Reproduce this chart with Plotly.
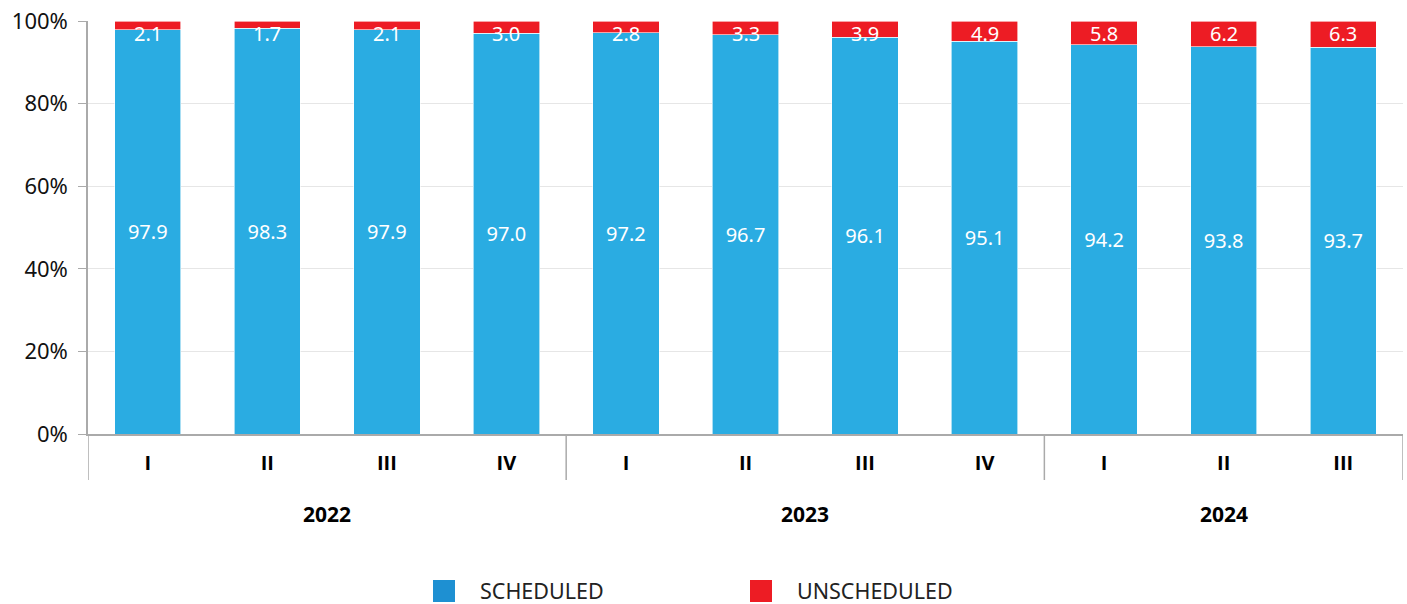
import plotly.graph_objects as go

years = ["2022"] * 4 + ["2023"] * 4 + ["2024"] * 3
quarters = ["I", "II", "III", "IV", "I", "II", "III", "IV", "I", "II", "III"]
scheduled = [97.9, 98.3, 97.9, 97.0, 97.2, 96.7, 96.1, 95.1, 94.2, 93.8, 93.7]
unscheduled = [2.1, 1.7, 2.1, 3.0, 2.8, 3.3, 3.9, 4.9, 5.8, 6.2, 6.3]
y_ticks = [0, 20, 40, 60, 80, 100]
year_labels = ["2022", "2023", "2024"]
series_names = ["SCHEDULED", "UNSCHEDULED"]

FONT = "Noto Sans"
TICKFONT = "Open Sans"
BLUE = "#2AACE2"
RED = "#ED1C24"
LEG_BLUE = "#1E90D2"
GRID = "#E6E6E6"
AXIS = "#AAAAAA"

PW, PH = 1315, 413   # plot area size in px
cats = [f"{y} {q}" for y, q in zip(years, quarters)]

fig = go.Figure()
fig.add_trace(go.Bar(
    x=cats, y=scheduled, name=series_names[0],
    marker=dict(color=BLUE, line=dict(color="white", width=0.6)),
    text=[f"{v:.1f}" for v in scheduled], textposition="inside",
    insidetextanchor="middle", textangle=0, constraintext="none",
    textfont=dict(color="white", size=20, family=FONT),
    width=0.555, showlegend=False,
))
fig.add_trace(go.Bar(
    x=cats, y=unscheduled, name=series_names[1],
    marker=dict(color=RED, line=dict(color="white", width=0.6)),
    width=0.555, showlegend=False,
))

# labels for the thin unscheduled segments, anchored at the top of each stack
for c, s, u in zip(cats, scheduled, unscheduled):
    fig.add_annotation(x=c, y=s + u, yref="y", text=f"{u:.1f}", showarrow=False,
                       yanchor="top", yshift=3,
                       font=dict(color="white", size=20, family=FONT))

# group dividers and year labels
n = len(cats)
bounds = [-0.5]
centers = []
for yl in year_labels:
    idx = [i for i, y in enumerate(years) if y == yl]
    bounds.append(idx[-1] + 0.5)
    centers.append((idx[0] + idx[-1]) / 2)
for b in bounds:
    fig.add_shape(type="line", xref="x", yref="paper", x0=b, x1=b, y0=0, y1=-46 / PH,
                  line=dict(color=AXIS, width=1.5))
for yl, cx in zip(year_labels, centers):
    fig.add_annotation(x=cx, xref="x", y=-80 / PH, yref="paper", text=f"<b>{yl}</b>",
                       showarrow=False, yanchor="middle",
                       font=dict(size=21, family=TICKFONT, color="#000000"))

# custom legend with large square swatches (positions relative to plot area)
leg = [(series_names[0], LEG_BLUE, 345), (series_names[1], RED, 662)]
for name, col, px in leg:
    fig.add_shape(type="rect", xref="paper", yref="paper",
                  x0=px / PW, x1=(px + 22) / PW,
                  y0=-146 / PH, y1=-168 / PH,
                  fillcolor=col, line=dict(width=0))
    fig.add_annotation(xref="paper", yref="paper", x=(px + 46) / PW,
                       y=-156 / PH, text=name, showarrow=False,
                       xanchor="left", yanchor="middle", borderpad=0,
                       font=dict(size=21.5, family=FONT, color="#222222"))

fig.update_layout(
    barmode="stack",
    width=1407, height=604,
    margin=dict(l=88, r=4, t=21, b=170),
    plot_bgcolor="white", paper_bgcolor="white",
    font=dict(family=FONT, size=19, color="#111111"),
    showlegend=False,
)
fig.update_yaxes(
    range=[0, 100], tickvals=y_ticks, ticktext=[f"{v}%" for v in y_ticks],
    showgrid=True, gridcolor=GRID, gridwidth=1,
    showline=True, linecolor=AXIS, linewidth=1.5,
    ticks="outside", ticklen=8, tickcolor=AXIS,
    tickfont=dict(size=22, family=FONT, color="#111111"),
    ticklabelstandoff=6, ticklabeloverflow="allow",
    zeroline=False, automargin=False,
)
fig.update_xaxes(
    type="category", range=[-0.5, n - 0.5],
    tickvals=cats, ticktext=[f"<b>{q}</b>" for q in quarters],
    showline=True, linecolor=AXIS, linewidth=1.5,
    tickfont=dict(size=20, family=TICKFONT, color="#000000"),
    ticks="", ticklabelstandoff=10, automargin=False,
)

fig.write_html("out.html", config={"displayModeBar": False},
               post_script="document.body.style.margin='0';")
